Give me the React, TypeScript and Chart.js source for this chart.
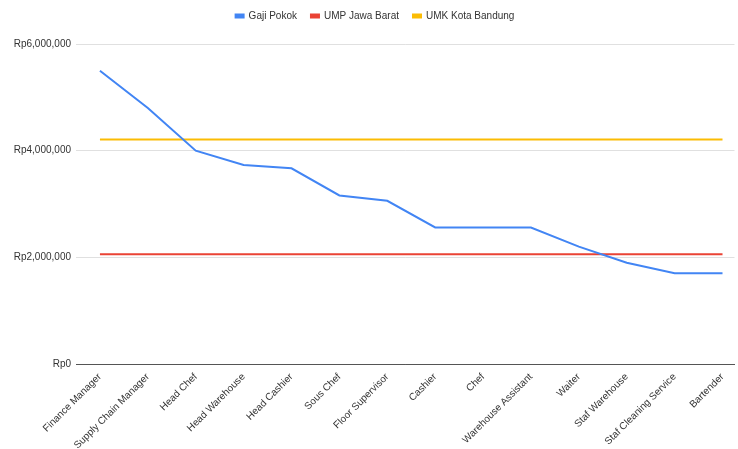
import React, { useEffect, useRef } from "react";
import { Chart, registerables } from "chart.js";

Chart.register(...registerables);

const categories = [
  "Finance Manager",
  "Supply Chain Manager",
  "Head Chef",
  "Head Warehouse",
  "Head Cashier",
  "Sous Chef",
  "Floor Supervisor",
  "Cashier",
  "Chef",
  "Warehouse Assistant",
  "Waiter",
  "Staf Warehouse",
  "Staf Cleaning Service",
  "Bartender",
];

const gajiPokok = [
  5500000, 4800000, 4000000, 3730000, 3670000, 3160000, 3060000, 2560000,
  2560000, 2560000, 2200000, 1900000, 1700000, 1700000,
];

const umpJawaBarat = [
  2057495, 2057495, 2057495, 2057495, 2057495, 2057495, 2057495, 2057495,
  2057495, 2057495, 2057495, 2057495, 2057495, 2057495,
];

const umkKotaBandung = [
  4209309, 4209309, 4209309, 4209309, 4209309, 4209309, 4209309, 4209309,
  4209309, 4209309, 4209309, 4209309, 4209309, 4209309,
];

const yTicks = [0, 2000000, 4000000, 6000000];

const FONT = "Arial, 'Liberation Sans', sans-serif";

export default function App() {
  const ref = useRef<HTMLCanvasElement | null>(null);

  useEffect(() => {
    if (!ref.current) return;
    const toPts = (arr: number[]) => arr.map((v, i) => ({ x: i, y: v }));
    const legendSpace = {
      id: "legendSpace",
      beforeInit(chart: any) {
        const orig = chart.legend.fit;
        chart.legend.fit = function () {
          orig.bind(chart.legend)();
          this.height += 13;
        };
      },
    };
    const chart = new Chart(ref.current, {
      type: "line",
      data: {
        datasets: [
          {
            label: "Gaji Pokok",
            data: toPts(gajiPokok),
            borderColor: "#4285f4",
            backgroundColor: "#4285f4",
            borderWidth: 2,
            pointRadius: 0,
            tension: 0,
          },
          {
            label: "UMP Jawa Barat",
            data: toPts(umpJawaBarat),
            borderColor: "#ea4335",
            backgroundColor: "#ea4335",
            borderWidth: 2,
            pointRadius: 0,
          },
          {
            label: "UMK Kota Bandung",
            data: toPts(umkKotaBandung),
            borderColor: "#fbbc04",
            backgroundColor: "#fbbc04",
            borderWidth: 2,
            pointRadius: 0,
          },
        ],
      },
      plugins: [legendSpace],
      options: {
        animation: false,
        responsive: false,
        maintainAspectRatio: false,
        layout: { padding: { left: 12, right: 0, top: -3, bottom: 0 } },
        plugins: {
          legend: {
            position: "top",
            labels: {
              boxWidth: 8,
              boxHeight: 3,
              padding: 14,
              color: "#333",
              font: { family: FONT, size: 10 },
            },
          },
          tooltip: { enabled: false },
        },
        scales: {
          x: {
            type: "linear",
            min: -0.5,
            max: 13.25,
            afterBuildTicks: (scale: any) => {
              scale.ticks = categories.map((_, i) => ({ value: i }));
            },
            afterFit: (scale: any) => {
              scale.height = 85;
            },
            grid: { display: false, drawTicks: false },
            border: { display: true, color: "#555", width: 1 },
            ticks: {
              autoSkip: false,
              minRotation: 45,
              maxRotation: 45,
              padding: 7,
              color: "#333",
              font: { family: FONT, size: 10 },
              callback: (v: any) => categories[v as number] ?? "",
            },
          },
          y: {
            min: 0,
            max: 6000000,
            afterBuildTicks: (scale: any) => {
              scale.ticks = yTicks.map((v) => ({ value: v }));
            },
            afterFit: (scale: any) => {
              scale.width = 64;
            },
            grid: {
              drawTicks: false,
              color: (ctx: any) => (ctx.tick && ctx.tick.value === 0 ? "#555" : "#e0e0e0"),
            },
            border: { display: false },
            ticks: {
              padding: 5,
              color: "#333",
              font: { family: FONT, size: 10 },
              callback: (v: any) => "Rp" + Number(v).toLocaleString("en-US"),
            },
          },
        },
      },
    });
    return () => chart.destroy();
  }, []);

  return (
    <div style={{ position: "absolute", left: 0, top: 0, width: 738, height: 449, background: "#fff" }}>
      <canvas ref={ref} width={738} height={449} style={{ width: 738, height: 449 }} />
    </div>
  );
}
